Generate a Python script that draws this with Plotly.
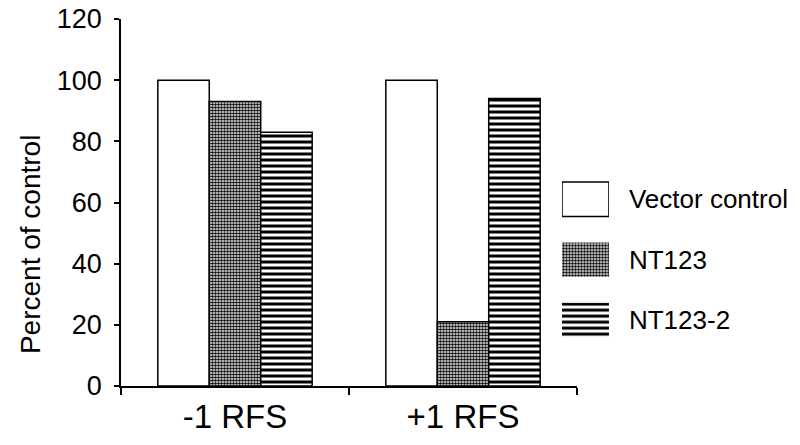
import plotly.graph_objects as go

categories = ["-1 RFS", "+1 RFS"]
series_names = ["Vector control", "NT123", "NT123-2"]
vector_control = [100, 100]
nt123 = [93, 21]
nt123_2 = [83, 94]
y_ticks = [0, 20, 40, 60, 80, 100, 120]

FONT = "Liberation Sans, Arial, sans-serif"

styles = {
    "Vector control": dict(color="white", pattern=None),
    "NT123": dict(color="white", pattern=dict(shape=".", fgcolor="black", bgcolor="white", size=3, solidity=0.6, fgopacity=1)),
    "NT123-2": dict(color="white", pattern=dict(shape="-", fgcolor="black", bgcolor="white", size=6, solidity=0.5, fgopacity=1)),
}

fig = go.Figure()
for name, vals in zip(series_names, [vector_control, nt123, nt123_2]):
    st = styles[name]
    marker = dict(color=st["color"], line=dict(color="black", width=1.5))
    if st["pattern"]:
        marker["pattern"] = st["pattern"]
    fig.add_trace(go.Bar(x=categories, y=vals, name=name, marker=marker,
                         showlegend=False, xaxis="x", yaxis="y"))

# legend swatches drawn as a small horizontal bar chart
for name in series_names:
    st = styles[name]
    marker = dict(color=st["color"],
                  line=dict(color="black", width=1.5 if name == "Vector control" else 0))
    if st["pattern"]:
        marker["pattern"] = st["pattern"]
    fig.add_trace(go.Bar(y=[name], x=[1], orientation="h", width=0.57, marker=marker,
                         showlegend=False, xaxis="x2", yaxis="y2"))

fig.update_layout(
    width=800, height=445,
    margin=dict(l=121, r=10, t=19, b=59, pad=0, autoexpand=False),
    paper_bgcolor="white", plot_bgcolor="white",
    font=dict(family=FONT, color="black"),
    barmode="group", bargap=0.323, bargroupgap=0,
    xaxis=dict(domain=[0, 0.6816], type="category", tickson="boundaries",
               ticks="outside", ticklen=7, tickcolor="black", tickwidth=1.5,
               showline=True, linecolor="black", linewidth=1.5,
               showgrid=False, zeroline=False, automargin=False,
               tickfont=dict(size=33), ticklabelstandoff=1),
    xaxis3=dict(overlaying="x", anchor="y", type="category",
                categoryorder="array", categoryarray=categories,
                range=[-0.5, 1.5], tickson="boundaries",
                ticks="inside", ticklen=5, tickcolor="black", tickwidth=1.5,
                showticklabels=False, showline=False, showgrid=False,
                zeroline=False, automargin=False),
    yaxis=dict(range=[0, 120], tickvals=y_ticks, ticks="outside", ticklen=5,
               tickcolor="black", tickwidth=1.5,
               showline=True, linecolor="black", linewidth=1.5,
               showgrid=False, zeroline=False, automargin=False,
               tickfont=dict(size=27), ticklabelstandoff=7,
               ticklabeloverflow="allow"),
    yaxis3=dict(range=[0, 120], tickvals=y_ticks, ticks="inside", ticklen=5,
                tickcolor="black", tickwidth=1.5, overlaying="y", anchor="x",
                showticklabels=False, showline=False, showgrid=False,
                zeroline=False, automargin=False),
    xaxis2=dict(domain=[0.6592, 0.7294], range=[0, 1], visible=False, anchor="y2"),
    yaxis2=dict(domain=[0.098, 0.591], type="category",
                categoryorder="array", categoryarray=list(reversed(series_names)),
                anchor="x2", side="right", showline=False, showgrid=False,
                zeroline=False, ticks="", tickfont=dict(size=26), automargin=False,
                ticklabelstandoff=19),
    annotations=[dict(text="Percent of control", textangle=-90, showarrow=False,
                      xref="paper", yref="paper", x=0, y=0.384,
                      xanchor="center", yanchor="middle", xshift=-91,
                      font=dict(size=28))],
)

fig.write_html("out.html",
               config={"displayModeBar": False},
               post_script="document.body.style.margin='0';document.body.style.overflow='hidden';")
